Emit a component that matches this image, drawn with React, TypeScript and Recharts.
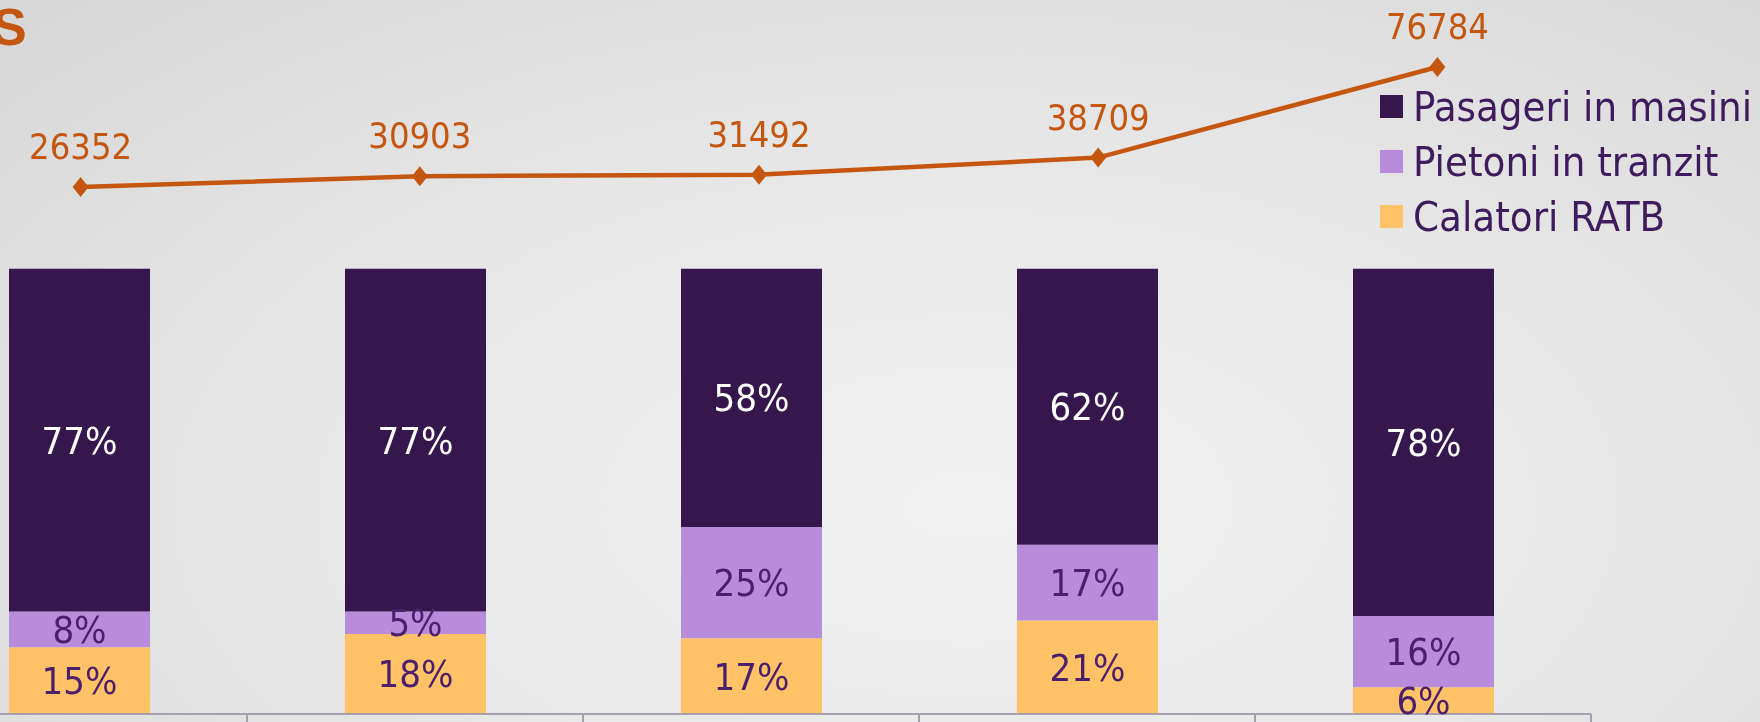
import React from 'react';
import { ComposedChart, Bar, Line, XAxis, YAxis, LabelList, Legend } from 'recharts';

// values
const CATEGORIES = ['Punct 1', 'Punct 2', 'Punct 3', 'Punct 4', 'Punct 5'];
const CALATORI_RATB = [15, 18, 17, 21, 6];
const PIETONI_TRANZIT = [8, 5, 25, 17, 16];
const PASAGERI_MASINI = [77, 77, 58, 62, 78];
const TOTAL_PERSOANE = [26352, 30903, 31492, 38709, 76784];

const SERIES = [
  { key: 'pasageri', name: 'Pasageri in masini', color: '#36174d' },
  { key: 'pietoni', name: 'Pietoni in tranzit', color: '#b98cdb' },
  { key: 'ratb', name: 'Calatori RATB', color: '#ffc266' },
];

const data = CATEGORIES.map((name, i) => ({
  name,
  ratb: CALATORI_RATB[i],
  pietoni: PIETONI_TRANZIT[i],
  pasageri: PASAGERI_MASINI[i],
  total: TOTAL_PERSOANE[i],
}));

const FONT = '"Liberation Sans Narrow", "DejaVu Sans Condensed", "Liberation Sans", sans-serif';
const ORANGE = '#c4560f';
const LABEL_PURPLE = '#4a1f6c';
const BAND = 336;

const Diamond = (props: any) => {
  const { cx, cy } = props;
  if (cx == null || cy == null) return null;
  return <polygon points={`${cx},${cy - 10} ${cx + 8},${cy} ${cx},${cy + 10} ${cx - 8},${cy}`} fill={ORANGE} />;
};

const BoundaryTick = (props: any) => {
  const { x, y } = props;
  const half = BAND / 2;
  return (
    <g>
      <line x1={x - half} x2={x + half} y1={y} y2={y} stroke="#a59fb0" strokeWidth={2} />
      <line x1={x + half} x2={x + half} y1={y} y2={y + 14} stroke="#a59fb0" strokeWidth={2} />
    </g>
  );
};

const LegendBox = () => (
  <div style={{ fontFamily: FONT }}>
    {SERIES.map((s) => (
      <div key={s.key} style={{ display: 'flex', alignItems: 'center', height: 55 }}>
        <span style={{ width: 23, height: 23, flexShrink: 0, background: s.color, display: 'inline-block', marginRight: 10 }} />
        <span style={{ fontSize: 41.5, color: '#3e1b5c', lineHeight: '55px', whiteSpace: 'nowrap' }}>{s.name}</span>
      </div>
    ))}
  </div>
);

const pct = (v: any) => `${v}%`;

export default function App() {
  return (
    <div
      style={{
        position: 'fixed',
        left: 0,
        top: 0,
        width: 1760,
        height: 722,
        overflow: 'hidden',
        background: 'radial-gradient(ellipse at 55% 70%, #f2f2f2 0%, #e8e8e8 45%, #d7d7d7 100%)',
        fontFamily: FONT,
      }}
    >
      <div style={{ position: 'absolute', left: -8, top: 1, fontSize: 52, lineHeight: '52px', fontWeight: 'bold', color: ORANGE, fontFamily: '"Liberation Sans", sans-serif' }}>
        S
      </div>
      <div style={{ position: 'absolute', left: -89, top: 0 }}>
        <ComposedChart width={1896} height={744} data={data} margin={{ top: 0, right: 200, bottom: 0, left: 0 }}>
          <XAxis
            xAxisId="bar"
            dataKey="name"
            height={30}
            padding={{ left: 0, right: 16 }}
            axisLine={false}
            tickLine={false}
            tickSize={0}
            tickMargin={0}
            tick={<BoundaryTick />}
            interval={0}
          />
          <XAxis xAxisId="line" dataKey="name" hide />
          <YAxis yAxisId="pct" hide type="number" domain={[0, 160.4]} allowDataOverflow />
          <YAxis yAxisId="cnt" hide type="number" domain={[-195140, 104940]} allowDataOverflow />
          <Legend
            layout="horizontal"
            verticalAlign="middle"
            align="center"
            content={<LegendBox />}
            wrapperStyle={{ position: 'absolute', top: 79, left: 1469, width: 420 }}
          />
          <Bar xAxisId="bar" yAxisId="pct" dataKey="ratb" name="Calatori RATB" stackId="a" fill="#ffc266" barSize={141} isAnimationActive={false}>
            <LabelList dataKey="ratb" position="center" formatter={pct} fill={LABEL_PURPLE} fontSize={38} fontFamily={FONT} />
          </Bar>
          <Bar xAxisId="bar" yAxisId="pct" dataKey="pietoni" name="Pietoni in tranzit" stackId="a" fill="#b98cdb" barSize={141} isAnimationActive={false}>
            <LabelList dataKey="pietoni" position="center" formatter={pct} fill={LABEL_PURPLE} fontSize={38} fontFamily={FONT} />
          </Bar>
          <Bar xAxisId="bar" yAxisId="pct" dataKey="pasageri" name="Pasageri in masini" stackId="a" fill="#36174d" barSize={141} isAnimationActive={false}>
            <LabelList dataKey="pasageri" position="center" formatter={pct} fill="#ffffff" fontSize={38} fontFamily={FONT} />
          </Bar>
          <Line
            xAxisId="line"
            yAxisId="cnt"
            dataKey="total"
            stroke={ORANGE}
            strokeWidth={4.5}
            dot={<Diamond />}
            activeDot={false}
            legendType="none"
            isAnimationActive={false}
          >
            <LabelList dataKey="total" position="top" offset={28} fill={ORANGE} fontSize={36} fontFamily={FONT} />
          </Line>
        </ComposedChart>
      </div>
    </div>
  );
}
